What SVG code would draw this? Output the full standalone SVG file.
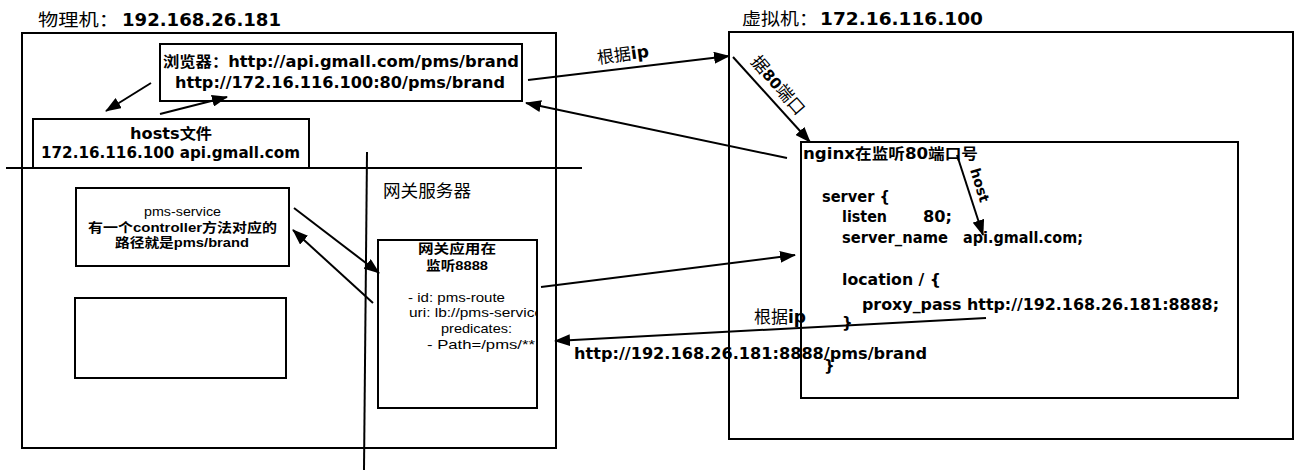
<svg xmlns="http://www.w3.org/2000/svg" width="1311" height="476" viewBox="0 0 1311 476">
<style>
.box{fill:#fff;stroke:#000;stroke-width:2}
.ln{fill:none;stroke:#000;stroke-width:2}
.arr{fill:none;stroke:#000;stroke-width:2;marker-end:url(#ah)}
.cn{font-family:"Noto Sans CJK SC",sans-serif;font-size:17px;fill:#000}
.b{font-family:"DejaVu Sans","Noto Sans CJK SC",sans-serif;font-weight:bold;fill:#000}
.s{font-family:"Liberation Sans","Noto Sans CJK SC",sans-serif;font-size:13px;fill:#000}
</style>
<defs>
<marker id="ah" markerWidth="16" markerHeight="12" refX="15" refY="6" orient="auto" markerUnits="userSpaceOnUse">
<path d="M0,0 L16,6 L0,12 z" fill="#000"/>
</marker>
<clipPath id="gwclip"><rect x="378" y="240" width="158" height="168"/></clipPath>
</defs>
<rect width="1311" height="476" fill="#fff"/>

<g id="physical">
<rect class="box" x="22" y="33" width="534" height="415"/>
<text x="38" y="26" class="cn" textLength="81" lengthAdjust="spacingAndGlyphs">物理机：</text>
<text x="122" y="26" class="b" font-size="18" textLength="159" lengthAdjust="spacingAndGlyphs">192.168.26.181</text>
<line class="ln" x1="6" y1="168" x2="582" y2="168"/>
<line class="ln" x1="367" y1="152" x2="364" y2="470"/>
<text x="383" y="197" class="cn" font-size="15" textLength="88" lengthAdjust="spacingAndGlyphs">网关服务器</text>
</g>

<g id="browser">
<rect class="box" x="160" y="44" width="362" height="57"/>
<text x="163" y="67" class="b" font-size="15" textLength="356" lengthAdjust="spacingAndGlyphs">浏览器：http://api.gmall.com/pms/brand</text>
<text x="175" y="88" class="b" font-size="15" textLength="330" lengthAdjust="spacingAndGlyphs">http://172.16.116.100:80/pms/brand</text>
</g>

<g id="hosts">
<rect class="box" x="33" y="119" width="276" height="49"/>
<text x="130" y="139" class="b" font-size="15" textLength="82" lengthAdjust="spacingAndGlyphs">hosts文件</text>
<text x="41" y="158" class="b" font-size="15" textLength="259" lengthAdjust="spacingAndGlyphs">172.16.116.100 api.gmall.com</text>
</g>

<g id="pms-service">
<rect class="box" x="76" y="188" width="213" height="78"/>
<text x="144" y="216" class="s" textLength="77" lengthAdjust="spacingAndGlyphs">pms-service</text>
<text x="88" y="232" class="s" font-weight="bold" textLength="189" lengthAdjust="spacingAndGlyphs">有一个controller方法对应的</text>
<text x="115" y="247" class="s" font-weight="bold" textLength="134" lengthAdjust="spacingAndGlyphs">路径就是pms/brand</text>
</g>

<g id="empty-box">
<rect class="box" x="75" y="298" width="211" height="80"/>
</g>

<g id="gateway">
<rect class="box" x="378" y="240" width="159" height="168"/>
<text x="418" y="253" class="s" font-size="14" font-weight="bold" textLength="78" lengthAdjust="spacingAndGlyphs">网关应用在</text>
<text x="426" y="270" class="s" font-size="14" font-weight="bold" textLength="62" lengthAdjust="spacingAndGlyphs">监听8888</text>
<g clip-path="url(#gwclip)">
<text x="408" y="302" class="s" textLength="97" lengthAdjust="spacingAndGlyphs">- id: pms-route</text>
<text x="409" y="317" class="s" textLength="134" lengthAdjust="spacingAndGlyphs">uri: lb://pms-service</text>
<text x="441" y="333" class="s" textLength="71" lengthAdjust="spacingAndGlyphs">predicates:</text>
<text x="427" y="349" class="s" textLength="108" lengthAdjust="spacingAndGlyphs">- Path=/pms/**</text>
</g>
</g>

<g id="virtual">
<rect class="box" x="729" y="32" width="564" height="407"/>
<text x="742" y="25" class="cn" textLength="76" lengthAdjust="spacingAndGlyphs">虚拟机：</text>
<text x="820" y="25" class="b" font-size="18" textLength="163" lengthAdjust="spacingAndGlyphs">172.16.116.100</text>
</g>

<g id="nginx">
<rect class="box" x="801" y="142" width="437" height="256"/>
<text x="803" y="159" class="b" font-size="15" textLength="175" lengthAdjust="spacingAndGlyphs">nginx在监听80端口号</text>
<text x="822" y="202" class="b" font-size="15" textLength="68" lengthAdjust="spacingAndGlyphs">server {</text>
<text x="842" y="222" class="b" font-size="15" textLength="45" lengthAdjust="spacingAndGlyphs">listen</text>
<text x="923" y="222" class="b" font-size="15" textLength="29" lengthAdjust="spacingAndGlyphs">80;</text>
<text x="842" y="243" class="b" font-size="15" textLength="106" lengthAdjust="spacingAndGlyphs">server_name</text>
<text x="963" y="243" class="b" font-size="15" textLength="120" lengthAdjust="spacingAndGlyphs">api.gmall.com;</text>
<text x="842" y="285" class="b" font-size="15" textLength="99" lengthAdjust="spacingAndGlyphs">location / {</text>
<text x="862" y="310" class="b" font-size="15" textLength="357" lengthAdjust="spacingAndGlyphs">proxy_pass http://192.168.26.181:8888;</text>
<text x="842" y="328" class="b" font-size="15">}</text>
<text x="824" y="371" class="b" font-size="15">}</text>
</g>

<g id="connectors">
<line class="arr" x1="151" y1="83" x2="106" y2="111"/>
<line class="arr" x1="160" y1="114" x2="227" y2="97"/>
<line class="arr" x1="528" y1="80" x2="729" y2="56"/>
<line class="arr" x1="787" y1="158" x2="526" y2="103"/>
<line class="arr" x1="733" y1="57" x2="810" y2="142"/>
<line class="arr" x1="957" y1="155" x2="983" y2="235"/>
<line class="arr" x1="294" y1="208" x2="379" y2="273"/>
<line class="arr" x1="373" y1="303" x2="293" y2="230"/>
<line class="arr" x1="541" y1="287" x2="795" y2="255"/>
<line class="arr" x1="986" y1="318" x2="555" y2="341"/>
<text transform="translate(598,64) rotate(-8)" class="cn" font-size="15">根据<tspan font-family="DejaVu Sans" font-weight="bold">ip</tspan></text>
<text transform="translate(750,62) rotate(49)" class="cn" font-size="14">据<tspan font-family="DejaVu Sans" font-weight="bold" font-size="15">80</tspan>端口</text>
<text transform="translate(970,170) rotate(73)" class="b" font-size="14">host</text>
<text x="754" y="323" class="cn" font-size="15">根据<tspan font-family="DejaVu Sans" font-weight="bold">ip</tspan></text>
<text x="574" y="359" class="b" font-size="15" textLength="353" lengthAdjust="spacingAndGlyphs">http://192.168.26.181:8888/pms/brand</text>
</g>
</svg>
